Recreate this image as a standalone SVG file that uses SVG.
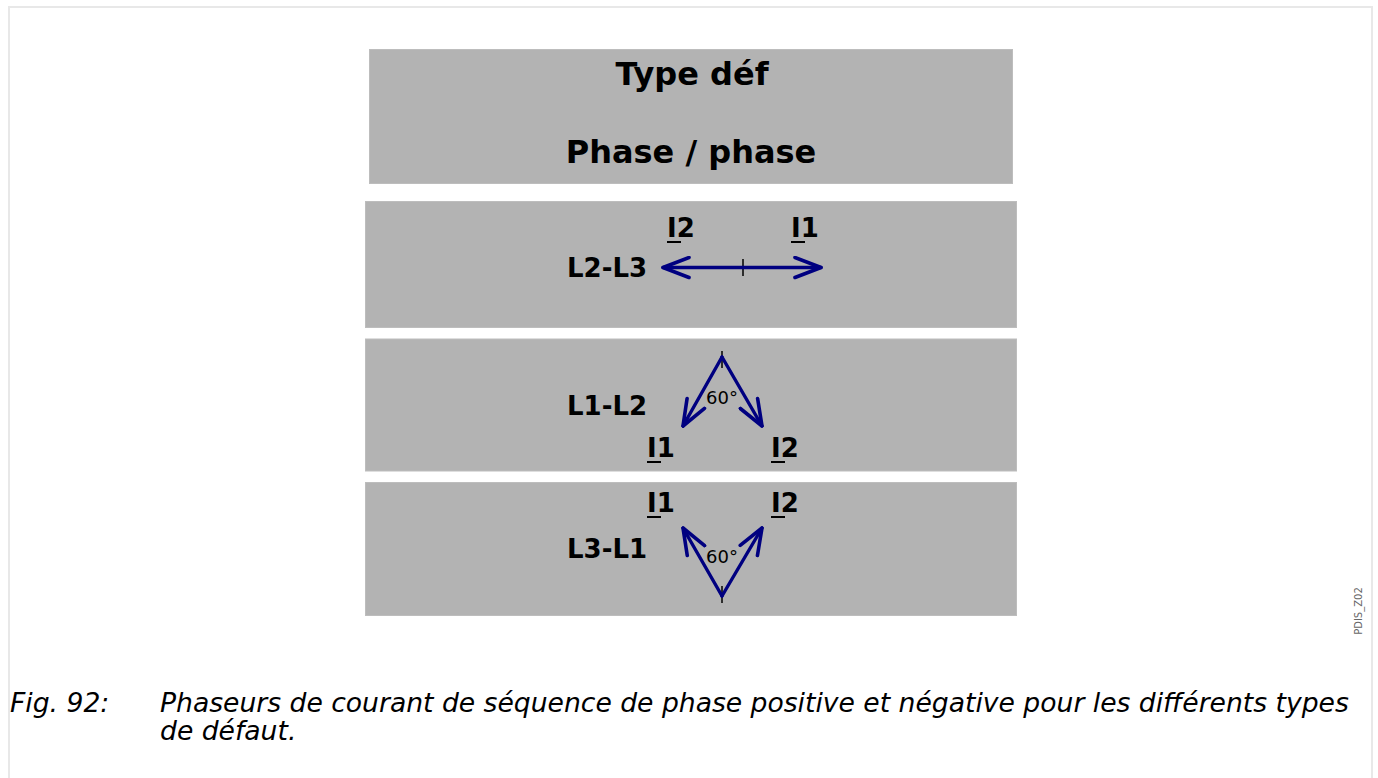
<svg xmlns="http://www.w3.org/2000/svg" width="1378" height="778" viewBox="0 0 1378 778">
<style>
.box{fill:#b3b3b3;stroke:#bdbdbd;stroke-width:1}
.b{font-family:"DejaVu Sans",sans-serif;font-weight:bold;fill:#000}
.t{font-family:"DejaVu Sans",sans-serif;font-size:18px;fill:#000}
.ul{stroke:#000;stroke-width:2}
.ph{stroke:#000080;stroke-width:3.4;fill:none;stroke-linecap:round;stroke-linejoin:round}
.tick{stroke:#000;stroke-width:1.5}
.cap{font-family:"DejaVu Sans",sans-serif;font-style:italic;font-size:26.6px;fill:#000}
</style>
<defs>
<marker id="ah" viewBox="-28 -12 30 24" markerWidth="30" markerHeight="24" refX="0" refY="0" orient="auto" markerUnits="userSpaceOnUse">
<path d="M-26,-10 L0,0 L-26,10" fill="none" stroke="#000080" stroke-width="3.6" stroke-linecap="round" stroke-linejoin="round"/>
</marker>
</defs>
<rect x="0" y="0" width="1378" height="778" fill="#fff"/>
<rect x="9" y="7" width="1363" height="800" fill="none" stroke="#e8e8e8" stroke-width="2"/>
<g id="title">
<rect class="box" x="369.5" y="49.5" width="643" height="134"/>
<text class="b" x="692" y="85" font-size="32" text-anchor="middle">Type déf</text>
<text class="b" x="691" y="163" font-size="32" text-anchor="middle">Phase / phase</text>
</g>
<g id="l2l3">
<rect class="box" x="365.5" y="201.5" width="651" height="126"/>
<text class="b" x="567" y="277" font-size="26">L2-L3</text>
<text class="b" x="667" y="237" font-size="26">I2</text>
<line class="ul" x1="667" y1="242" x2="681" y2="242"/>
<text class="b" x="791" y="237" font-size="26">I1</text>
<line class="ul" x1="791" y1="242" x2="805" y2="242"/>
<line class="tick" x1="743" y1="259" x2="743" y2="276"/>
</g>
<g id="l1l2">
<rect class="box" x="365.5" y="339" width="651" height="132"/>
<text class="b" x="567" y="415" font-size="26">L1-L2</text>
<text class="b" x="647" y="457" font-size="26">I1</text>
<line class="ul" x1="647" y1="462" x2="661" y2="462"/>
<text class="b" x="771" y="457" font-size="26">I2</text>
<line class="ul" x1="771" y1="462" x2="785" y2="462"/>
<text class="t" x="722" y="404" text-anchor="middle">60°</text>
<line class="tick" x1="722" y1="351" x2="722" y2="368"/>
</g>
<g id="l3l1">
<rect class="box" x="365.5" y="482.5" width="651" height="133"/>
<text class="b" x="567" y="558" font-size="26">L3-L1</text>
<text class="b" x="647" y="512" font-size="26">I1</text>
<line class="ul" x1="647" y1="517" x2="661" y2="517"/>
<text class="b" x="771" y="512" font-size="26">I2</text>
<line class="ul" x1="771" y1="517" x2="785" y2="517"/>
<text class="t" x="722" y="563" text-anchor="middle">60°</text>
<line class="tick" x1="722" y1="586" x2="722" y2="603"/>
</g>
<g id="connectors">
<line class="ph" x1="743" y1="267.5" x2="663" y2="267.5" marker-end="url(#ah)"/>
<line class="ph" x1="743" y1="267.5" x2="821" y2="267.5" marker-end="url(#ah)"/>
<line class="ph" x1="722" y1="357" x2="683" y2="426" marker-end="url(#ah)"/>
<line class="ph" x1="722" y1="357" x2="762" y2="426" marker-end="url(#ah)"/>
<line class="ph" x1="722" y1="596" x2="683" y2="528" marker-end="url(#ah)"/>
<line class="ph" x1="722" y1="596" x2="762" y2="528" marker-end="url(#ah)"/>
</g>
<text x="1362" y="611" font-family="DejaVu Sans, sans-serif" font-size="10" fill="#666" text-anchor="middle" transform="rotate(-90 1362 611)">PDIS_Z02</text>
<text class="cap" x="10" y="712">Fig. 92:</text>
<text class="cap" x="160" y="712">Phaseurs de courant de séquence de phase positive et négative pour les différents types</text>
<text class="cap" x="160" y="740">de défaut.</text>
</svg>
